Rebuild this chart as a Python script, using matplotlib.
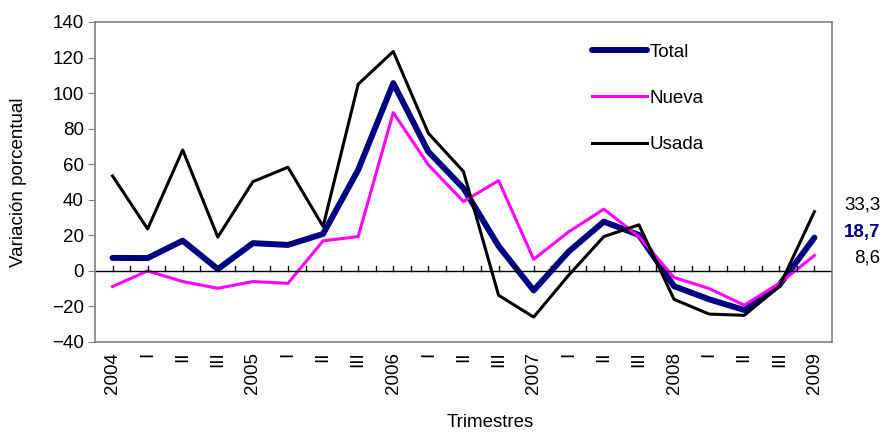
import numpy as np
import matplotlib.pyplot as plt
from matplotlib import transforms

plt.rcParams['font.family'] = ['Liberation Sans', 'DejaVu Sans']

# Quarterly variation, 2004 Q1 .. 2009 Q1
quarters = ['2004', 'I', 'II', 'III', '2005', 'I', 'II', 'III', '2006', 'I', 'II', 'III',
            '2007', 'I', 'II', 'III', '2008', 'I', 'II', 'III', '2009']
total = [7.3, 7.2, 17.0, 1.0, 15.6, 14.6, 20.8, 56.8, 105.6, 67.0, 46.5, 14.0,
         -11.0, 10.9, 27.7, 20.2, -8.6, -16.0, -22.0, -8.0, 18.7]
nueva = [-8.8, 0.0, -6.0, -9.8, -6.0, -7.0, 16.9, 19.3, 89.0, 59.6, 39.0, 50.8,
         6.5, 22.0, 34.7, 19.3, -3.7, -9.9, -19.3, -7.0, 8.6]
usada = [53.4, 23.6, 68.0, 19.0, 50.2, 58.3, 25.0, 105.0, 123.4, 77.4, 55.9, -13.7,
         -26.0, -2.4, 19.3, 25.9, -16.0, -24.3, -25.0, -8.8, 33.3]
end_labels = ['33,3', '18,7', '8,6']

x = np.arange(len(quarters))
fs = 13.5

fig = plt.figure(figsize=(8.86, 4.36), dpi=100)
ax = fig.add_axes([0.1072, 0.2156, 0.8318, 0.734])

ax.plot(x, total, color='#000080', lw=4.3, label='Total', solid_capstyle='round')
ax.plot(x, nueva, color='#FF00FF', lw=2.2, label='Nueva')
ax.plot(x, usada, color='black', lw=2.2, label='Usada')

ax.set_xlim(-0.5, len(quarters) - 0.5)
ax.set_ylim(-40, 140)
ax.set_yticks(np.arange(-40, 141, 20))
ax.tick_params(axis='y', direction='out', length=5, color='gray', labelsize=fs, pad=3)

# category axis drawn at zero, with tick marks at centres and boundaries
ax.axhline(0, color='black', lw=1)
for t in np.arange(0, len(quarters) - 0.5, 0.5):
    ax.plot([t, t], [0, 2.8], color='black', lw=1)

ax.set_xticks(x)
ax.set_xticklabels(quarters, rotation=90, fontsize=fs)
ax.tick_params(axis='x', length=0, pad=7)

for s in ax.spines.values():
    s.set_color('gray')
    s.set_linewidth(1.2)

ax.set_ylabel('Variación porcentual', fontsize=fs, labelpad=18)
ax.set_xlabel('Trimestres', fontsize=fs)
ax.xaxis.set_label_coords(0.537, -0.225)

leg = ax.legend(loc='upper left', bbox_to_anchor=(0.652, 0.985), frameon=False,
                fontsize=fs, handlelength=2.9, handletextpad=0.15, labelspacing=1.55)

trans = transforms.blended_transform_factory(fig.transFigure, ax.transData)
ax.text(0.994, 37, end_labels[0], transform=trans, ha='right', va='center', fontsize=fs)
ax.text(0.994, 21.5, end_labels[1], transform=trans, ha='right', va='center', fontsize=fs,
        color='#000080', fontweight='bold')
ax.text(0.994, 7, end_labels[2], transform=trans, ha='right', va='center', fontsize=fs)

fig.savefig('out.png', dpi=100)
